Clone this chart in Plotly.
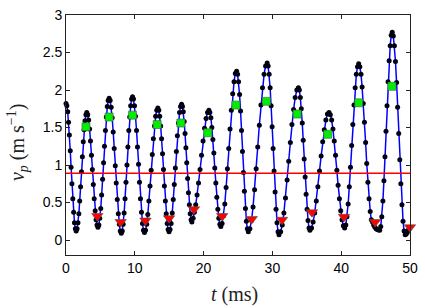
import plotly.graph_objects as go

# time samples (ms)
t_ms = [
    0.00, 0.12, 0.25, 0.37, 0.49, 0.62, 0.74, 0.86, 0.99, 1.11, 1.23, 1.36, 1.48,
    1.61, 1.74, 1.87, 1.99, 2.12, 2.25, 2.38, 2.51, 2.63, 2.76, 2.89, 3.02,
    3.16, 3.29, 3.43, 3.56, 3.70, 3.83, 3.97, 4.10, 4.24, 4.37, 4.51, 4.64,
    4.78, 4.91, 5.05, 5.18, 5.32, 5.46, 5.59, 5.73, 5.86, 6.00, 6.13, 6.27,
    6.42, 6.57, 6.71, 6.86, 7.01, 7.16, 7.30, 7.45, 7.60, 7.75, 7.89, 8.04,
    8.18, 8.31, 8.45, 8.58, 8.72, 8.86, 8.99, 9.13, 9.26, 9.40, 9.53, 9.67,
    9.81, 9.96, 10.10, 10.25, 10.39, 10.54, 10.68, 10.82, 10.97, 11.11, 11.26, 11.40,
    11.56, 11.73, 11.89, 12.05, 12.21, 12.38, 12.54, 12.70, 12.86, 13.03, 13.19, 13.35,
    13.49, 13.62, 13.76, 13.89, 14.03, 14.17, 14.30, 14.44, 14.57, 14.71, 14.84, 14.98,
    15.13, 15.28, 15.44, 15.59, 15.74, 15.89, 16.04, 16.19, 16.35, 16.50, 16.65, 16.80,
    16.93, 17.05, 17.18, 17.30, 17.43, 17.55, 17.68, 17.80, 17.93, 18.05, 18.18, 18.30,
    18.48, 18.66, 18.85, 19.05, 19.26, 19.48, 19.70, 19.92, 20.14, 20.36, 20.57, 20.77,
    20.91, 21.06, 21.20, 21.35, 21.49, 21.63, 21.78, 21.92, 22.07, 22.21, 22.36, 22.50,
    22.69, 22.88, 23.08, 23.27, 23.46, 23.65, 23.84, 24.03, 24.23, 24.42, 24.61, 24.80,
    24.94, 25.08, 25.23, 25.37, 25.51, 25.65, 25.79, 25.93, 26.08, 26.22, 26.36, 26.50,
    26.73, 26.96, 27.19, 27.41, 27.64, 27.87, 28.10, 28.33, 28.56, 28.79, 29.01, 29.24,
    29.38, 29.53, 29.67, 29.81, 29.96, 30.10, 30.24, 30.39, 30.53, 30.67, 30.82, 30.96,
    31.20, 31.43, 31.67, 31.90, 32.14, 32.37, 32.61, 32.84, 33.08, 33.31, 33.55, 33.78,
    33.92, 34.06, 34.20, 34.34, 34.48, 34.62, 34.76, 34.90, 35.04, 35.18, 35.32, 35.46,
    35.69, 35.92, 36.15, 36.38, 36.61, 36.85, 37.08, 37.31, 37.54, 37.77, 38.00, 38.23,
    38.42, 38.61, 38.80, 38.99, 39.18, 39.37, 39.55, 39.74, 39.93, 40.12, 40.31, 40.50,
    40.67, 40.84, 41.01, 41.18, 41.35, 41.52, 41.69, 41.86, 42.03, 42.20, 42.37, 42.54,
    42.71, 42.88, 43.04, 43.21, 43.38, 43.55, 43.71, 43.88, 44.05, 44.22, 44.38, 44.55,
    44.72, 44.90, 45.08, 45.25, 45.42, 45.60,
    45.75, 45.90, 46.06, 46.21, 46.36, 46.51, 46.66, 46.81, 46.97, 47.12, 47.27, 47.42,
    47.58, 47.73, 47.89, 48.05, 48.20, 48.36, 48.52, 48.67, 48.83, 48.99, 49.14, 49.30,
    49.45, 49.60, 49.75, 49.90,
]

# velocity samples (m/s)
v_mps = [
    1.82, 1.79, 1.71, 1.57, 1.40, 1.19, 0.97, 0.75, 0.55, 0.37, 0.23, 0.15, 0.12,
    0.15, 0.23, 0.35, 0.52, 0.71, 0.91, 1.11, 1.31, 1.47, 1.59, 1.67, 1.70,
    1.67, 1.60, 1.48, 1.32, 1.13, 0.94, 0.74, 0.55, 0.39, 0.27, 0.20, 0.17,
    0.20, 0.29, 0.42, 0.60, 0.81, 1.03, 1.25, 1.46, 1.64, 1.78, 1.86, 1.89,
    1.86, 1.77, 1.63, 1.44, 1.22, 0.99, 0.76, 0.54, 0.35, 0.21, 0.12, 0.09,
    0.12, 0.21, 0.36, 0.55, 0.77, 1.00, 1.24, 1.46, 1.64, 1.79, 1.88, 1.91,
    1.88, 1.79, 1.65, 1.46, 1.24, 1.01, 0.77, 0.55, 0.37, 0.22, 0.13, 0.10,
    0.13, 0.21, 0.34, 0.52, 0.72, 0.93, 1.14, 1.35, 1.52, 1.65, 1.73, 1.76,
    1.73, 1.65, 1.52, 1.35, 1.15, 0.94, 0.72, 0.52, 0.35, 0.22, 0.14, 0.11,
    0.14, 0.22, 0.36, 0.54, 0.74, 0.96, 1.18, 1.39, 1.56, 1.70, 1.78, 1.81,
    1.78, 1.71, 1.58, 1.42, 1.23, 1.03, 0.82, 0.63, 0.47, 0.35, 0.27, 0.24,
    0.29, 0.37, 0.47, 0.60, 0.76, 0.94, 1.13, 1.32, 1.49, 1.62, 1.70, 1.73,
    1.70, 1.63, 1.50, 1.34, 1.16, 0.96, 0.76, 0.57, 0.41, 0.29, 0.21, 0.18,
    0.22, 0.32, 0.48, 0.70, 0.95, 1.22, 1.48, 1.73, 1.95, 2.11, 2.22, 2.25,
    2.21, 2.11, 1.94, 1.72, 1.46, 1.18, 0.90, 0.65, 0.42, 0.25, 0.15, 0.11,
    0.15, 0.26, 0.44, 0.67, 0.95, 1.24, 1.53, 1.80, 2.03, 2.21, 2.32, 2.36,
    2.32, 2.21, 2.03, 1.79, 1.51, 1.22, 0.92, 0.64, 0.41, 0.23, 0.11, 0.07,
    0.11, 0.20, 0.36, 0.56, 0.80, 1.05, 1.30, 1.54, 1.74, 1.90, 2.00, 2.03,
    2.00, 1.90, 1.75, 1.56, 1.33, 1.08, 0.84, 0.61, 0.41, 0.26, 0.16, 0.13,
    0.16, 0.24, 0.36, 0.52, 0.71, 0.92, 1.12, 1.31, 1.47, 1.60, 1.68, 1.70,
    1.67, 1.60, 1.48, 1.32, 1.13, 0.93, 0.73, 0.55, 0.39, 0.27, 0.19, 0.16,
    0.20, 0.31, 0.48, 0.71, 0.97, 1.26, 1.54, 1.80, 2.03, 2.21, 2.31, 2.35,
    2.31, 2.21, 2.04, 1.82, 1.57, 1.30, 1.02, 0.77, 0.55, 0.38, 0.27, 0.24,
    0.20, 0.17, 0.15, 0.14, 0.135, 0.13,
    0.18, 0.31, 0.52, 0.79, 1.11, 1.45, 1.79, 2.11, 2.39, 2.59, 2.73, 2.77,
    2.72, 2.59, 2.38, 2.10, 1.77, 1.42, 1.07, 0.75, 0.47, 0.25, 0.12, 0.07,
    0.08, 0.10, 0.13, 0.16,
]

# green squares (near peaks)
green_t = [2.90, 6.27, 9.67, 13.25, 16.70, 20.60, 24.70, 29.14, 33.60, 38.04, 42.54, 47.37]
green_v = [1.51, 1.64, 1.665, 1.54, 1.56, 1.43, 1.80, 1.85, 1.68, 1.41, 1.83, 2.05]

# red down-triangles (near minima)
red_t = [4.55, 7.95, 11.55, 14.98, 18.60, 22.70, 27.00, 31.40, 35.75, 40.40, 44.93, 50.00]
red_v = [0.32, 0.24, 0.26, 0.29, 0.41, 0.32, 0.28, 0.27, 0.37, 0.31, 0.24, 0.17]

threshold_v = 0.89
x_ticks = [0, 10, 20, 30, 40, 50]
y_ticks = [0, 0.5, 1, 1.5, 2, 2.5, 3]
y_tick_text = ["0", "0.5", "1", "1.5", "2", "2.5", "3"]

n = min(len(t_ms), len(v_mps))
t_ms = t_ms[:n]
v_mps = v_mps[:n]

fig = go.Figure()
fig.add_trace(go.Scatter(
    x=t_ms, y=v_mps, mode="lines+markers",
    line=dict(color="#0000ff", width=1.5),
    marker=dict(color="#000010", size=5, line=dict(width=0)),
    cliponaxis=False, showlegend=False, hoverinfo="skip"))
fig.add_trace(go.Scatter(
    x=[0, 50], y=[threshold_v, threshold_v], mode="lines",
    line=dict(color="#ff0000", width=1.6), showlegend=False, hoverinfo="skip"))
fig.add_trace(go.Scatter(
    x=green_t, y=green_v, mode="markers",
    marker=dict(symbol="square", color="#00ee00", size=8,
                line=dict(color="#555555", width=0.6)),
    cliponaxis=False, showlegend=False, hoverinfo="skip"))
fig.add_trace(go.Scatter(
    x=red_t, y=red_v, mode="markers",
    marker=dict(symbol="triangle-down", color="#ff0000", size=10,
                line=dict(color="#555555", width=0.6)),
    cliponaxis=False, showlegend=False, hoverinfo="skip"))

axis_common = dict(
    showline=True, linecolor="#222222", linewidth=1, mirror="ticks",
    ticks="inside", ticklen=4, tickcolor="#222222", tickwidth=1,
    showgrid=False, zeroline=False, ticklabeloverflow="allow",
    tickfont=dict(family="Liberation Sans, Arial, sans-serif", size=14, color="black"),
)
fig.update_xaxes(range=[0, 50.001], tickvals=x_ticks, ticktext=[str(v) for v in x_ticks],
                 **axis_common)
fig.update_yaxes(range=[-0.2, 3.001], tickvals=y_ticks, ticktext=y_tick_text, **axis_common)

fig.update_layout(
    width=425, height=308,
    margin=dict(l=66, r=11, t=7, b=53),
    plot_bgcolor="white", paper_bgcolor="white",
    annotations=[
        dict(text="<i>t</i> (ms)", xref="paper", yref="paper", x=0.49, y=-0.165,
             xanchor="center", yanchor="middle", showarrow=False,
             font=dict(family="Liberation Serif, Times New Roman, serif", size=20, color="#222")),
        dict(text="<i>v<sub>p</sub></i> (m s<sup>\u22121</sup>)", xref="paper", yref="paper",
             x=-0.14, y=0.47, xanchor="center", yanchor="middle", textangle=-90,
             showarrow=False,
             font=dict(family="Liberation Serif, Times New Roman, serif", size=20, color="#222")),
    ],
)

fig.write_html("out.html", config={"displayModeBar": False},
               post_script="document.body.style.margin='0';document.body.style.padding='0';")
